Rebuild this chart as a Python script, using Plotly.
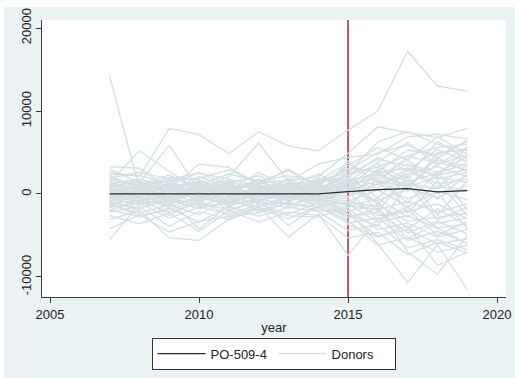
import plotly.graph_objects as go

# Observation years
years = list(range(2007, 2020))
treatment_year = 2015

# Axis ticks
x_ticks = [2005, 2010, 2015, 2020]
y_ticks = [-10000, 0, 10000, 20000]
y_tick_labels = ["-10000", "0", "10000", "20000"]

# Treated unit
treated_name = "PO-509-4"
treated_values = [0, 0, 0, 0, 0, 0, 0, 0, 280, 520, 640, 240, 400]

# Donor pool series (one row per donor, 2007-2019)
donor_values = [
    [14200, 600, 1100, 700, 300, 500, 200, 800, 1400, 2600, 3100, 2300, 2900],
    [2600, 2100, 7900, 7150, 4850, 7500, 5800, 5200, 7700, 10000, 17200, 13000, 12400],
    [1400, 5200, 2700, 500, 900, 1300, 1600, 2100, 4900, 8100, 7400, 6800, 7900],
    [3300, 3100, 600, 3600, 3200, 1100, 3000, 700, 2300, 3300, 4600, 5600, 6000],
    [3000, 1300, 5900, 500, 2100, 6100, 1500, 3600, 4400, 4800, 6900, 7200, 6600],
    [2400, 2200, 1300, 2500, 1800, 900, 1200, 1500, 2600, 6300, 7500, 6000, 5200],
    [2000, 900, 1600, 1900, 2900, 1400, 2800, 1000, 3400, 5600, 4100, 6900, 4800],
    [1700, 1100, 2300, 400, 1300, 2200, 600, 1900, 1500, 3900, 6200, 3500, 5700],
    [1200, 1800, 700, 1500, 600, 1700, 900, 1200, 3100, 2700, 5300, 4700, 6300],
    [1000, 500, 1200, 1000, 1600, 300, 1400, 600, 2000, 4400, 2800, 5400, 3900],
    [800, 1500, 400, 2100, 800, 1000, 300, 1700, 1200, 1900, 3600, 2600, 4500],
    [600, 200, 1000, 300, 1100, 600, 1000, 400, 2600, 3200, 1900, 4100, 3300],
    [500, 1200, 300, 800, 200, 1400, 500, 900, 900, 2200, 4000, 1800, 2600],
    [400, 700, 900, 1300, 500, 200, 1200, 300, 1700, 1100, 2400, 3300, 2100],
    [300, 100, 600, 200, 900, 800, 200, 1100, 600, 2900, 1500, 2500, 3700],
    [200, 900, 200, 700, 100, 500, 800, 200, 1300, 700, 3100, 1200, 1800],
    [100, 400, 800, 100, 600, 100, 400, 700, 400, 1600, 900, 2000, 1400],
    [0, -200, 300, 500, -100, 400, -300, 200, 800, 400, 1300, 600, 2200],
    [-100, 300, -400, -200, 300, -300, 100, -100, -300, 1200, -600, 900, 500],
    [-200, -600, 100, -500, -300, 200, -500, 400, 300, -800, 600, -400, 1000],
    [-300, 100, -800, 300, -700, -400, 300, -300, -900, 500, -1500, 300, -700],
    [-400, -900, -200, -900, 200, -700, -200, -600, -1400, -1900, -900, -2200, -1200],
    [-500, -300, -1100, -600, -1000, -100, -800, -200, -600, -2600, -2100, -1200, -3000],
    [-600, -1300, -500, -1400, -400, -1100, -600, -900, -2100, -1300, -3300, -2800, -2300],
    [-700, -500, -1600, -300, -1300, -600, -1300, -500, -1200, -3400, -2600, -4100, -3600],
    [-900, -1700, -700, -1800, -900, -1500, -400, -1300, -2800, -2200, -4700, -3300, -4800],
    [-1100, -800, -2200, -1100, -1900, -900, -1700, -800, -1800, -4300, -3500, -5200, -4300],
    [-1300, -2300, -1300, -2500, -600, -2000, -1100, -1600, -3500, -2900, -5600, -4500, -5900],
    [-1600, -1100, -2900, -1600, -2400, -1300, -2400, -1100, -2500, -5100, -4300, -6000, -5400],
    [-1900, -2800, -1700, -3400, -1500, -2700, -1600, -2100, -4400, -3700, -6500, -5500, -6700],
    [-2200, -1500, -3900, -2100, -3100, -1800, -3000, -1500, -3200, -6200, -5200, -7000, -6200],
    [-2600, -3600, -2300, -4500, -2000, -3400, -2200, -2600, -5300, -4600, -7300, -5800, -7100],
    [-3100, -2000, -5300, -5600, -3000, -1500, -5200, -2400, -7400, -3000, -1600, -4100, -6000],
    [-4200, -2500, -4600, -3300, -2700, -2300, -1000, -2000, -2000, -6000, -10700, -6100, -11500],
    [-5500, -1200, -800, -4200, -1400, -600, -3800, -1400, -1000, -1500, -7000, -9700, -5000],
    [700, -400, 500, -700, 900, -200, 600, -800, 1000, -1200, 1700, -600, 2400],
    [-800, 600, -300, 900, -500, 800, -900, 500, -1600, 1800, -1100, 2700, -1900],
    [1500, 400, -600, 1200, -200, 1800, -400, 1300, 2200, -500, 2900, 800, 3500],
    [-1500, 200, 1300, -1000, 1100, -1200, 1500, -700, 500, 3000, -2300, 1600, -2600],
    [900, 1600, -900, 600, 1400, -800, 100, 1600, 3700, 1400, 4500, 3800, 2900],
    [-1000, -1900, 600, -1500, -1100, 1000, -1500, 0, -2400, -3900, 1200, -3100, -1600],
    [1900, 2600, 1800, 1100, 2400, 1600, 2200, 1400, 2900, 5000, 5900, 4300, 6500],
    [-2000, -700, -1400, 700, -2100, -700, 700, -1800, 1400, -1000, -4200, -1800, -3800],
    [1100, -1000, 1500, -400, 700, 1200, -600, 900, -400, 2500, 1000, 3600, 4700],
    [-400, 1300, -1200, 1600, -1200, 300, 1800, -1200, 1900, -2100, 2200, -2600, 1600],
    [2200, 600, 2000, 1700, 400, 2600, 800, 2400, 800, 3700, 300, 5000, 5300],
    [-1200, -2600, -1900, -800, -2600, -1600, -2600, -2800, -1600, -500, -2800, 200, -4200],
    [500, 800, -1500, 1400, -1700, 900, 1100, -400, 4000, 1300, 2100, 6300, 4200],
    [-700, 1000, 1900, -1300, 1700, -1400, -1000, 1700, -3700, -5200, -3800, -8600, -7000],
    [300, -1100, 800, -300, -800, 1100, -200, 500, 2300, 4200, 3400, 2100, 5600],
    [-300, 400, -700, 1000, 400, -900, 900, -300, -2900, -1700, -5400, -3500, -2900],
    [1300, 300, 1700, 2600, 1000, -300, 1900, 200, 1700, 2300, 800, 4400, 2700],
    [-900, -400, -2600, -700, 1000, -2300, -300, -900, 300, -3100, -1900, -5000, -3300],
]

donor_color = "#d3dfe3"
bg_color = "#eaf2f3"
axis_color = "#3c3c3c"
font_family = "Liberation Sans, Arial, sans-serif"

fig = go.Figure()

for i, series in enumerate(donor_values):
    fig.add_trace(go.Scatter(
        x=years, y=series, mode="lines", name="Donors",
        legendgroup="donors", showlegend=(i == 0), legendrank=2,
        line=dict(color=donor_color, width=1.3),
        hoverinfo="skip",
    ))

fig.add_trace(go.Scatter(
    x=years, y=treated_values, mode="lines", name=treated_name,
    legendrank=1,
    line=dict(color="#2a2a2a", width=1.3),
))

# Grey outer frame, white plot region and the treatment-year marker
fig.add_shape(type="rect", xref="paper", yref="paper",
              x0=-0.0819, x1=1.0194, y0=-0.2924, y1=1.0469,
              fillcolor=bg_color, line=dict(width=0), layer="below")
fig.add_shape(type="rect", xref="paper", yref="paper",
              x0=0, x1=1, y0=0, y1=1,
              fillcolor="white", line=dict(width=0), layer="below")
fig.add_shape(type="line", xref="x", yref="paper",
              x0=treatment_year, x1=treatment_year, y0=0, y1=1,
              line=dict(color="#b81d45", width=1.5), layer="below")

fig.update_layout(
    width=515, height=378,
    margin=dict(l=42, r=9, t=20, b=81, autoexpand=False),
    paper_bgcolor="white",
    plot_bgcolor="rgba(0,0,0,0)",
    font=dict(family=font_family, size=13, color="#222222"),
    showlegend=True,
    legend=dict(
        orientation="h", x=0.499, xanchor="center", y=-0.147, yanchor="top",
        bgcolor="white", bordercolor="#333333", borderwidth=1,
        font=dict(size=13), entrywidth=58, itemwidth=48,
        traceorder="normal",
    ),
    xaxis=dict(
        range=[2004.73, 2020.3], tickvals=x_ticks,
        showgrid=False, zeroline=False, automargin=False,
        showline=True, linecolor=axis_color, linewidth=1,
        ticks="outside", ticklen=5, tickcolor=axis_color,
        tickfont=dict(size=13),
        title=dict(text="year", font=dict(size=13), standoff=2),
    ),
    yaxis=dict(
        range=[-12420, 20970], tickvals=y_ticks, ticktext=y_tick_labels,
        showgrid=False, zeroline=False, automargin=False,
        showline=True, linecolor=axis_color, linewidth=1,
        ticks="outside", ticklen=5, tickcolor=axis_color,
        tickangle=-90, tickfont=dict(size=13),
    ),
)

fig.write_html("out.html")
